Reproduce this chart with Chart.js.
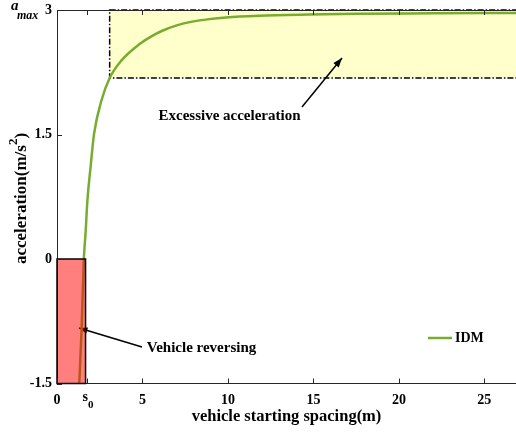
<!DOCTYPE html>
<html lang="en">
<head>
  <meta charset="UTF-8">
  <title>IDM acceleration</title>
  <script src="https://cdn.jsdelivr.net/npm/chart.js"></script>
  <style>
    html, body { margin: 0; padding: 0; background: #fff; }
    #wrap { width: 516px; height: 432px; }
  </style>
</head>
<body>
<div id="wrap"><canvas id="idmChart"></canvas></div>
<script>
  // curve
  const spacing = [1.30, 1.44, 1.57, 1.67, 1.78, 1.96, 2.17, 2.60, 3.08, 3.76, 4.83, 5.5, 6.16, 7.0, 7.91, 8.9, 9.88, 11.8, 14.7, 17.6, 22.0, 26.85];
  const accel   = [-1.5, -0.84, 0, 0.31, 0.71, 1.10, 1.51, 1.91, 2.18, 2.39, 2.59, 2.68, 2.75, 2.815, 2.86, 2.89, 2.91, 2.93, 2.945, 2.955, 2.96, 2.965];

  const xTicks = [0, 1.75, 5, 10, 15, 20, 25];
  const yTicks = [-1.5, 0, 1.5, 3];
  const s0Tick = 1.75;

  // boxes: [xMin, xMax, yMin, yMax]
  const reversingBox = [0, 1.67, -1.5, 0];
  const excessBox = [3.08, 26.85, 2.18, 3];

  const green = '#77ac30';
  const serif = '"Liberation Serif", "DejaVu Serif", serif';

  function arrow(ctx, x1, y1, x2, y2, head) {
    ctx.save();
    ctx.strokeStyle = '#000';
    ctx.fillStyle = '#000';
    ctx.lineWidth = 1.5;
    ctx.beginPath();
    ctx.moveTo(x1, y1);
    ctx.lineTo(x2, y2);
    ctx.stroke();
    const ang = Math.atan2(y2 - y1, x2 - x1);
    ctx.beginPath();
    ctx.moveTo(x2, y2);
    ctx.lineTo(x2 - head * Math.cos(ang - 0.35), y2 - head * Math.sin(ang - 0.35));
    ctx.lineTo(x2 - head * Math.cos(ang + 0.35), y2 - head * Math.sin(ang + 0.35));
    ctx.closePath();
    ctx.fill();
    ctx.restore();
  }

  const decorations = {
    id: 'decorations',
    beforeDatasetsDraw(chart) {
      const { ctx, scales: { x, y } } = chart;
      // yellow region
      const l = x.getPixelForValue(excessBox[0]), r = x.getPixelForValue(excessBox[1]);
      const t = y.getPixelForValue(excessBox[3]), b = y.getPixelForValue(excessBox[2]);
      ctx.save();
      ctx.fillStyle = 'rgba(255,255,0,0.2)';
      ctx.fillRect(l, t, r - l, b - t);
      ctx.strokeStyle = '#000';
      ctx.lineWidth = 1.5;
      ctx.setLineDash([6, 2, 1.5, 2]);
      ctx.strokeRect(l, t, r - l + 3, b - t);
      ctx.restore();

      // reversing arrow goes under the red box
      arrow(ctx, 142, 347, 79, 328, 9);
    },
    afterDatasetsDraw(chart) {
      const { ctx, chartArea: a, scales: { x, y } } = chart;
      // red region
      const l = x.getPixelForValue(reversingBox[0]), r = x.getPixelForValue(reversingBox[1]);
      const t = y.getPixelForValue(reversingBox[3]), b = y.getPixelForValue(reversingBox[2]);
      ctx.save();
      ctx.fillStyle = 'rgba(255,0,0,0.5)';
      ctx.fillRect(l, t, r - l, b - t);
      ctx.strokeStyle = '#000';
      ctx.lineWidth = 1.5;
      ctx.strokeRect(l, t, r - l, b - t);
      ctx.restore();

      // excessive acceleration arrow
      arrow(ctx, 302, 107, 342, 58, 10);

      // top frame and inward ticks
      ctx.save();
      ctx.strokeStyle = '#262626';
      ctx.lineWidth = 1;
      ctx.beginPath();
      ctx.moveTo(a.left, a.top + 0.5);
      ctx.lineTo(a.right, a.top + 0.5);
      xTicks.forEach(v => {
        const px = Math.round(x.getPixelForValue(v)) + 0.5;
        ctx.moveTo(px, a.bottom);
        ctx.lineTo(px, a.bottom - 5);
        ctx.moveTo(px, a.top);
        ctx.lineTo(px, a.top + 5);
      });
      yTicks.forEach(v => {
        const py = Math.round(y.getPixelForValue(v)) + 0.5;
        ctx.moveTo(a.left, py);
        ctx.lineTo(a.left + 5, py);
      });
      ctx.stroke();

      // text
      ctx.fillStyle = '#000';
      ctx.textBaseline = 'middle';
      ctx.textAlign = 'center';
      ctx.font = 'bold 15px ' + serif;
      ctx.fillText('Excessive acceleration', 229.5, 116);
      ctx.fillText('Vehicle reversing', 201.5, 348);

      // s0 tick label
      const sx = x.getPixelForValue(s0Tick);
      ctx.font = 'bold 14px ' + serif;
      ctx.textAlign = 'right';
      ctx.fillText('s', sx + 1, 397);
      ctx.textAlign = 'left';
      ctx.font = 'bold 11px ' + serif;
      ctx.fillText('0', sx + 1, 405);

      // a_max label
      ctx.font = 'italic bold 15px ' + serif;
      ctx.fillText('a', 11, 6);
      ctx.font = 'italic bold 12px ' + serif;
      ctx.fillText('max', 17, 16);

      // y title with superscript
      ctx.save();
      ctx.translate(26, 198.5);
      ctx.rotate(-Math.PI / 2);
      ctx.textBaseline = 'alphabetic';
      const big = 'bold 17px ' + serif, small = 'bold 13px ' + serif;
      ctx.font = big;
      const w1 = ctx.measureText('acceleration(m/s').width;
      const w3 = ctx.measureText(')').width;
      ctx.font = small;
      const w2 = ctx.measureText('2').width;
      let cx = -(w1 + w2 + w3) / 2;
      ctx.font = big;
      ctx.fillText('acceleration(m/s', cx, 0);
      cx += w1;
      ctx.font = small;
      ctx.fillText('2', cx, -9);
      cx += w2;
      ctx.font = big;
      ctx.fillText(')', cx, 0);
      ctx.restore();

      // legend
      ctx.strokeStyle = green;
      ctx.lineWidth = 2.5;
      ctx.beginPath();
      ctx.moveTo(428, 338);
      ctx.lineTo(452, 338);
      ctx.stroke();
      ctx.font = 'bold 14px ' + serif;
      ctx.fillText('IDM', 455, 338);
      ctx.restore();
    }
  };

  new Chart(document.getElementById('idmChart'), {
    type: 'scatter',
    data: {
      datasets: [{
        label: 'IDM',
        data: spacing.map((s, i) => ({ x: s, y: accel[i] })),
        showLine: true,
        borderColor: green,
        borderWidth: 2.5,
        pointRadius: 0,
        cubicInterpolationMode: 'monotone'
      }]
    },
    options: {
      responsive: true,
      maintainAspectRatio: false,
      animation: false,
      layout: { padding: { top: 10, right: 0, left: 0, bottom: 0 } },
      plugins: { legend: { display: false }, tooltip: { enabled: false } },
      scales: {
        x: {
          type: 'linear',
          min: 0,
          max: 26.85,
          afterBuildTicks: s => { s.ticks = xTicks.map(v => ({ value: v })); },
          afterFit: s => { s.height = 48.5; s.paddingLeft = 0; s.paddingRight = 0; },
          grid: { display: false, drawTicks: false },
          border: { display: true, color: '#262626', width: 1 },
          ticks: {
            padding: 8,
            maxRotation: 0,
            color: '#000',
            font: { family: serif, size: 14, weight: 'bold' },
            callback: v => (v === s0Tick ? '' : v)
          },
          title: {
            display: true,
            text: 'vehicle starting spacing(m)',
            color: '#000',
            font: { family: serif, size: 16.5, weight: 'bold' },
            padding: { top: 0, bottom: 5 }
          }
        },
        y: {
          min: -1.5,
          max: 3,
          afterBuildTicks: s => { s.ticks = yTicks.map(v => ({ value: v })); },
          afterFit: s => { s.width = 57; s.paddingTop = 0; s.paddingBottom = 0; },
          grid: { display: false, drawTicks: false },
          border: { display: true, color: '#262626', width: 1 },
          ticks: {
            padding: 5,
            color: '#000',
            font: { family: serif, size: 14, weight: 'bold' }
          }
        }
      }
    },
    plugins: [decorations]
  });
</script>
</body>
</html>
